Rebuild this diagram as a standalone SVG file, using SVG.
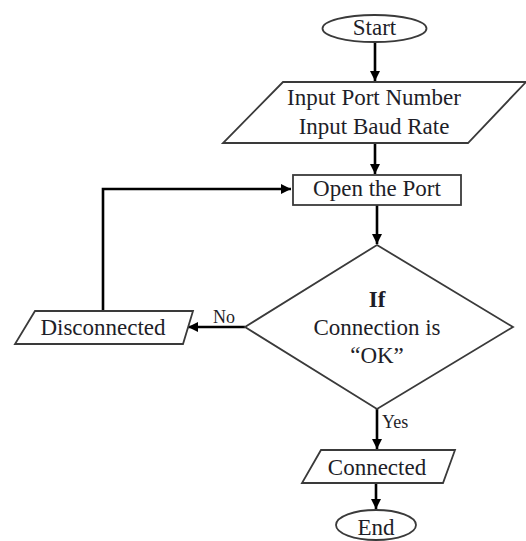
<svg xmlns="http://www.w3.org/2000/svg" width="526" height="541" viewBox="0 0 526 541">
<style>
.s{fill:#fff;stroke:#3a3a3a;stroke-width:1.8}
.t{font-family:'Liberation Serif','DejaVu Serif',serif;font-size:23px;fill:#1e1e28;text-anchor:middle}
.l{font-family:'Liberation Serif','DejaVu Serif',serif;font-size:18px;fill:#1e1e28}
.c{fill:none;stroke:#000;stroke-width:2.6}
</style>
<defs>
<marker id="a" viewBox="0 0 10 10" refX="10" refY="5" markerWidth="4" markerHeight="4" markerUnits="strokeWidth" orient="auto">
<path d="M0,0 L10,5 L0,10 z" fill="#000"/>
</marker>
</defs>
<rect width="526" height="541" fill="#fff"/>
<g id="connectors">
<path class="c" d="M375,42 V81" marker-end="url(#a)"/>
<path class="c" d="M375,143 V174" marker-end="url(#a)"/>
<path class="c" d="M377,205 V244" marker-end="url(#a)"/>
<path class="c" d="M245,327 H188" marker-end="url(#a)"/>
<path class="c" d="M103,311 V189 H291" marker-end="url(#a)"/>
<path class="c" d="M377,409 V449" marker-end="url(#a)"/>
<path class="c" d="M376,483 V509" marker-end="url(#a)"/>
<text class="l" x="213" y="323">No</text>
<text class="l" x="382" y="428">Yes</text>
</g>
<g id="start">
<ellipse class="s" cx="374.5" cy="28.5" rx="52" ry="13.5"/>
<text class="t" x="374.5" y="35">Start</text>
</g>
<g id="input">
<polygon class="s" points="283,82 526,82 468,143 223,143"/>
<text class="t" x="374" y="105">Input Port Number</text>
<text class="t" x="374" y="134">Input Baud Rate</text>
</g>
<g id="open">
<rect class="s" x="293" y="175" width="168" height="30"/>
<text class="t" x="377" y="196">Open the Port</text>
</g>
<g id="decision">
<polygon class="s" points="377,245 513,327 377,409 245,327"/>
<text class="t" x="377" y="307" font-weight="bold">If</text>
<text class="t" x="377" y="335">Connection is</text>
<text class="t" x="377" y="363">“OK”</text>
</g>
<g id="disconnected">
<polygon class="s" points="35,311 193,311 183,344 15,344"/>
<text class="t" x="103" y="335">Disconnected</text>
</g>
<g id="connected">
<polygon class="s" points="321,450 455,450 443,483 302,483"/>
<text class="t" x="377" y="475">Connected</text>
</g>
<g id="end">
<ellipse class="s" cx="376" cy="525" rx="40" ry="15"/>
<text class="t" x="376" y="535">End</text>
</g>
</svg>
